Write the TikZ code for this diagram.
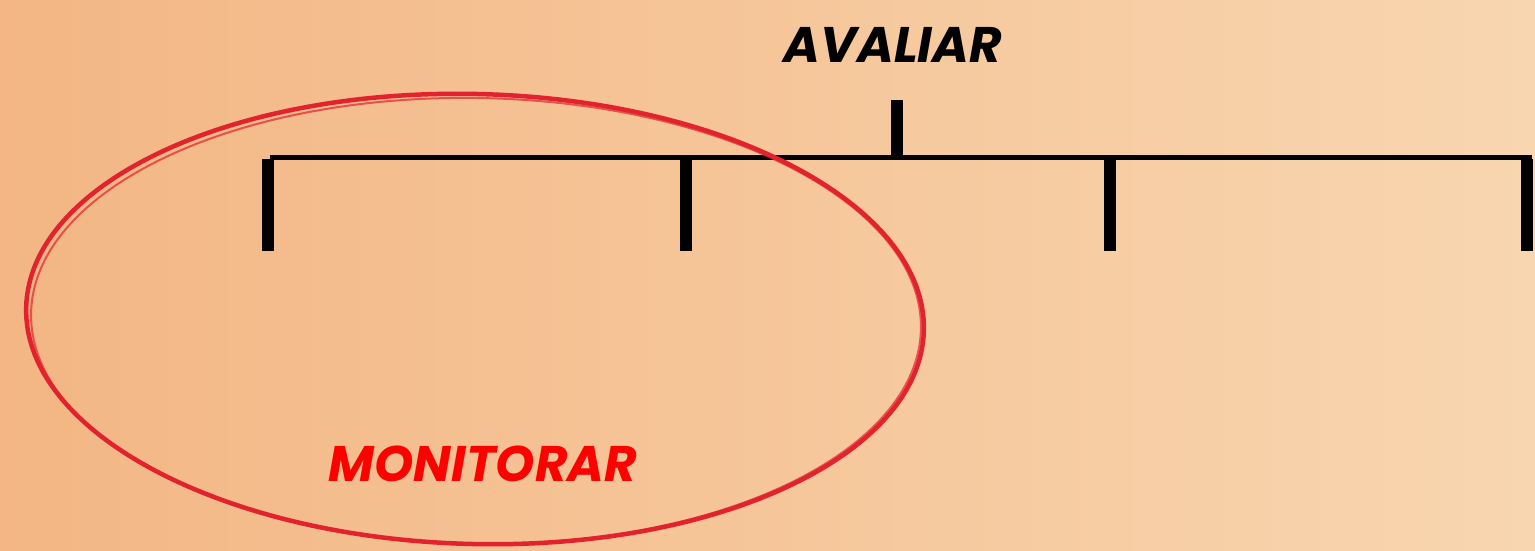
\documentclass[tikz,border=0pt]{standalone}
\usepackage{fontspec}
\setmainfont{Poppins}
\newfontfamily\heavyfont[BoldFont={* Bold}, BoldFeatures={FakeBold=1.5}]{Poppins}
\definecolor{bgleft}{HTML}{F3B684}
\definecolor{bgright}{HTML}{F8D6B0}
\definecolor{ringred}{HTML}{E2232E}
\tikzset{
  tick/.style={line width=12pt, line cap=butt, black},
  axis/.style={line width=5pt, black},
  lbl/.style={font=\heavyfont\fontsize{50}{54}\selectfont\bfseries\itshape, inner sep=0pt},
  ring/.style={draw=ringred, line width=4.5pt}
}
\begin{document}
\begin{tikzpicture}[x=1pt,y=-1pt]
  \shade[left color=bgleft, right color=bgright] (0,0) rectangle (1535,551);
  \useasboundingbox (0,0) rectangle (1535,551);
  % axis
  \coordinate (a0) at (270,157);
  \coordinate (a1) at (1532,157);
  \draw[axis] (a0) -- (a1);
  % ticks down
  \foreach \x/\n in {268/t1,686/t2,1110/t3,1527/t4}{
    \coordinate (\n top) at (\x,159);
    \coordinate (\n bot) at (\x,251);
    \draw[tick] (\n top) -- (\n bot);
  }
  % tick up
  \coordinate (u top) at (897,100);
  \coordinate (u bot) at (897,157);
  \draw[tick] (u top) -- (u bot);
  % labels
  \node[lbl, text=black] (avaliar) at (893,45) {AVALIAR};
  \node[lbl, text=red] (monitorar) at (483,464) {MONITORAR};
  % ring
  \draw[ring, rotate around={-1.5:(475,319)}] (475,319) ellipse [x radius=449, y radius=225];
  \draw[ring, line width=2pt, opacity=0.7, rotate around={-1:(476,321)}] (476,321) ellipse [x radius=445, y radius=223];
\end{tikzpicture}
\end{document}
